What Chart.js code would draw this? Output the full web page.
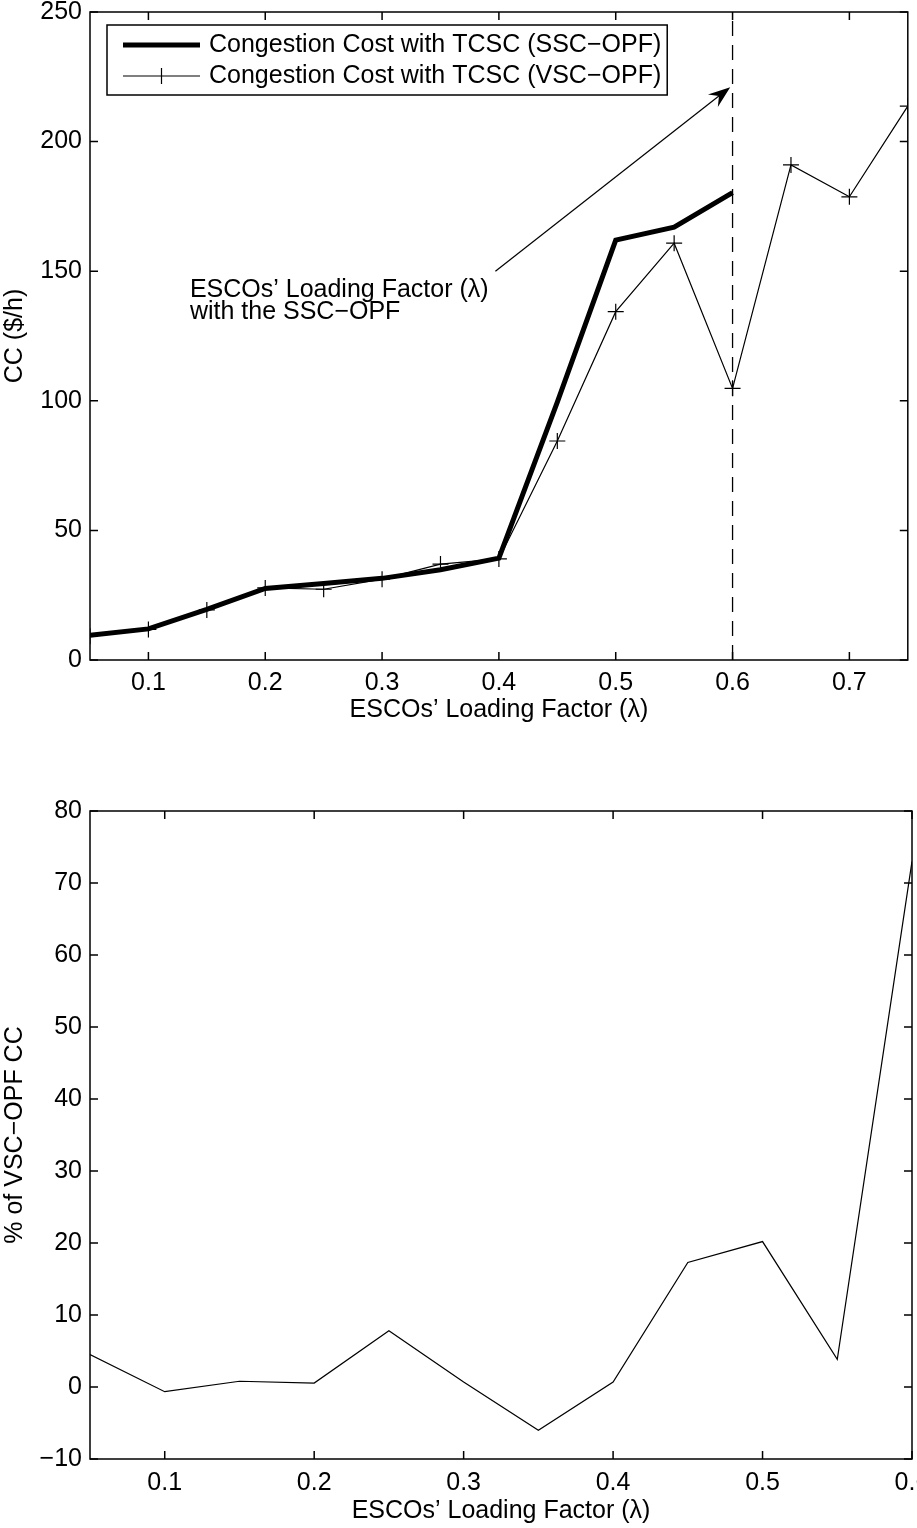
<!DOCTYPE html>
<html><head><meta charset="utf-8">
<script src="https://cdn.jsdelivr.net/npm/chart.js@4/dist/chart.umd.min.js"></script>
<style>
html,body{margin:0;padding:0;background:#fff;overflow:hidden;width:917px;height:1528px;}
canvas{position:absolute;left:0;display:block;}
#c1{top:0;} #c2{top:758px;}
</style></head><body>
<canvas id="c1" width="917" height="740"></canvas>
<canvas id="c2" width="917" height="770"></canvas>
<script>
// ---- data ----
const lambdaSSC = [0.05,0.1,0.15,0.2,0.25,0.3,0.35,0.4,0.45,0.5,0.55,0.6];
const ccSSC     = [9.5,12,19.5,27.6,29.5,31.5,34.8,39.3,99.5,162,167,180.3];
const lambdaVSC = [0.05,0.1,0.15,0.2,0.25,0.3,0.35,0.4,0.45,0.5,0.55,0.6,0.65,0.7,0.75];
const ccVSC     = [9.2,11.8,19.3,27.8,27.3,31.2,37,39,84.5,134.4,160.8,104.8,191,178.7,213.7];
const lambdaPct = [0.05,0.1,0.15,0.2,0.25,0.3,0.35,0.4,0.45,0.5,0.55,0.6];
const pctVSC    = [4.5,-0.65,0.8,0.55,7.8,0.7,-6,0.7,17.3,20.2,3.85,73];
const xTicksTop = [0.1,0.2,0.3,0.4,0.5,0.6,0.7];
const yTicksTop = [0,50,100,150,200,250];
const xTicksBottom = [0.1,0.2,0.3,0.4,0.5,0.6];
const yTicksBottom = [-10,0,10,20,30,40,50,60,70,80];
const ssclimitLambda = 0.6;
const seriesNames = ['Congestion Cost with TCSC (SSC\u2212OPF)','Congestion Cost with TCSC (VSC\u2212OPF)'];
const xTitle = 'ESCOs\u2019 Loading Factor (\u03bb)';
const annotText = ['ESCOs\u2019 Loading Factor (\u03bb)','with the SSC\u2212OPF'];
const arrowFrom = {x:0.397, y:150};
const arrowTo   = {x:0.598, y:221};
const textAt    = {x:0.1355, y:140.2};

Chart.defaults.font.family = "'Liberation Sans', Arial, Helvetica, sans-serif";
Chart.defaults.font.size = 25;
Chart.defaults.color = '#000';

const FONT = "25px 'Liberation Sans', Arial, sans-serif";

const framePlugin = {
  id: 'frame',
  afterDatasetsDraw(chart) {
    const {ctx, chartArea: a, scales: {x, y}} = chart;
    ctx.save();
    ctx.strokeStyle = '#000';
    ctx.lineWidth = 1.5;
    ctx.strokeRect(a.left, a.top, a.right - a.left, a.bottom - a.top);
    const L = 8;
    ctx.beginPath();
    x.ticks.forEach(t => {
      const p = x.getPixelForValue(t.value);
      ctx.moveTo(p, a.bottom); ctx.lineTo(p, a.bottom - L);
      ctx.moveTo(p, a.top); ctx.lineTo(p, a.top + L);
    });
    y.ticks.forEach(t => {
      const p = y.getPixelForValue(t.value);
      ctx.moveTo(a.left, p); ctx.lineTo(a.left + L, p);
      ctx.moveTo(a.right, p); ctx.lineTo(a.right - L, p);
    });
    ctx.stroke();
    ctx.restore();
  }
};

const annotPlugin = {
  id: 'annot',
  afterDatasetsDraw(chart) {
    if (chart.canvas.id !== 'c1') return;
    const {ctx, chartArea: a, scales: {x, y}} = chart;
    ctx.save();
    // arrow
    const x0 = x.getPixelForValue(arrowFrom.x), y0 = y.getPixelForValue(arrowFrom.y);
    const x1 = x.getPixelForValue(arrowTo.x), y1 = y.getPixelForValue(arrowTo.y);
    const ang = Math.atan2(y1 - y0, x1 - x0);
    const hl = 22, hw = 8;
    const c = Math.cos(ang), s = Math.sin(ang);
    ctx.strokeStyle = '#000'; ctx.fillStyle = '#000'; ctx.lineWidth = 1.2;
    ctx.beginPath(); ctx.moveTo(x0, y0);
    ctx.lineTo(x1 - hl * 0.6 * c, y1 - hl * 0.6 * s); ctx.stroke();
    const bx = x1 - hl * c, by = y1 - hl * s;
    const nx = -s, ny = c;
    ctx.beginPath();
    ctx.moveTo(x1, y1);
    ctx.lineTo(bx + nx * hw, by + ny * hw);
    ctx.lineTo(x1 - hl * 0.65 * c, y1 - hl * 0.65 * s);
    ctx.lineTo(bx - nx * hw, by - ny * hw);
    ctx.closePath(); ctx.fill();
    // text
    ctx.font = FONT; ctx.textAlign = 'left'; ctx.textBaseline = 'alphabetic';
    const tx = x.getPixelForValue(textAt.x), ty = y.getPixelForValue(textAt.y);
    ctx.fillText(annotText[0], tx, ty);
    ctx.fillText(annotText[1], tx, ty + 22);
    // legend
    const bl = a.left + 17, bt = a.top + 13;
    ctx.font = FONT;
    const tw = Math.max(...seriesNames.map(t => ctx.measureText(t).width));
    const textX = bl + 102;
    const bw = textX - bl + tw + 6, bh = 70;
    ctx.fillStyle = '#fff';
    ctx.fillRect(bl, bt, bw, bh);
    ctx.strokeStyle = '#000'; ctx.lineWidth = 1.5;
    ctx.strokeRect(bl, bt, bw, bh);
    const r1 = bt + 20, r2 = bt + 51;
    ctx.beginPath(); ctx.lineWidth = 5; ctx.moveTo(bl + 16, r1); ctx.lineTo(bl + 93, r1); ctx.stroke();
    ctx.beginPath(); ctx.lineWidth = 1.2; ctx.moveTo(bl + 16, r2); ctx.lineTo(bl + 93, r2);
    const mx = (bl + 16 + bl + 93) / 2;
    ctx.moveTo(mx, r2 - 8); ctx.lineTo(mx, r2 + 8);
    ctx.moveTo(mx - 8, r2); ctx.lineTo(mx + 8, r2);
    ctx.stroke();
    ctx.fillStyle = '#000'; ctx.textBaseline = 'middle';
    ctx.fillText(seriesNames[0], textX, r1);
    ctx.fillText(seriesNames[1], textX, r2);
    ctx.restore();
  }
};

function xScale(min, max, ticks, height, titlePad, tickPad) {
  return {
    type: 'linear', position: 'bottom', min, max,
    grid: {display: false, drawTicks: false},
    border: {display: false},
    afterBuildTicks: s => { s.ticks = ticks.map(v => ({value: v})); },
    afterFit: s => { s.height = height; s.paddingLeft = 0; s.paddingRight = 0; },
    ticks: {padding: tickPad, maxRotation: 0, autoSkip: false, callback: v => Number(v).toFixed(1)},
    title: {display: true, text: xTitle, padding: {top: 0, bottom: titlePad}}
  };
}
function yScale(min, max, ticks, title) {
  return {
    type: 'linear', position: 'left', min, max,
    grid: {display: false, drawTicks: false},
    border: {display: false},
    afterBuildTicks: s => { s.ticks = ticks.map(v => ({value: v})); },
    afterFit: s => { s.width = 90; s.paddingTop = 0; s.paddingBottom = 0; },
    ticks: {padding: 8, callback: v => (v < 0 ? '\u2212' + Math.abs(v) : String(v))},
    title: {display: true, text: title, padding: {top: 0, bottom: 0}}
  };
}

const common = {
  responsive: false, animation: false, devicePixelRatio: 1,
  plugins: {legend: {display: false}, tooltip: {enabled: false}},
  elements: {line: {tension: 0}}
};

new Chart(document.getElementById('c1'), {
  type: 'line',
  data: {
    datasets: [
      {label: seriesNames[0], data: lambdaSSC.map((l, i) => ({x: l, y: ccSSC[i]})),
       borderColor: '#000', borderWidth: 5, pointRadius: 0, fill: false},
      {label: seriesNames[1], data: lambdaVSC.map((l, i) => ({x: l, y: ccVSC[i]})),
       borderColor: '#000', borderWidth: 1.2, pointStyle: 'cross', pointRadius: 8,
       pointBorderWidth: 1.2, pointBorderColor: '#000', pointBackgroundColor: '#000', fill: false},
      {label: 'limit', data: [{x: ssclimitLambda, y: 0}, {x: ssclimitLambda, y: 250}],
       borderColor: '#000', borderWidth: 1.3, borderDash: [15, 9], pointRadius: 0, fill: false}
    ]
  },
  options: Object.assign({}, common, {
    layout: {padding: {left: 0, top: 12, right: 5, bottom: 0}},
    scales: {
      x: xScale(0.05, 0.75, xTicksTop, 80, 15, 8),
      y: yScale(0, 250, yTicksTop, 'CC ($/h)')
    }
  }),
  plugins: [framePlugin, annotPlugin]
});

new Chart(document.getElementById('c2'), {
  type: 'line',
  data: {
    datasets: [
      {label: '% of VSC\u2212OPF CC', data: lambdaPct.map((l, i) => ({x: l, y: pctVSC[i]})),
       borderColor: '#000', borderWidth: 1.2, pointRadius: 0, fill: false}
    ]
  },
  options: Object.assign({}, common, {
    layout: {padding: {left: 0, top: 53, right: 5, bottom: 0}},
    scales: {
      x: xScale(0.05, 0.6, xTicksBottom, 69, 2, 9),
      y: yScale(-10, 80, yTicksBottom, '% of VSC\u2212OPF CC')
    }
  }),
  plugins: [framePlugin]
});
</script>
</body></html>
